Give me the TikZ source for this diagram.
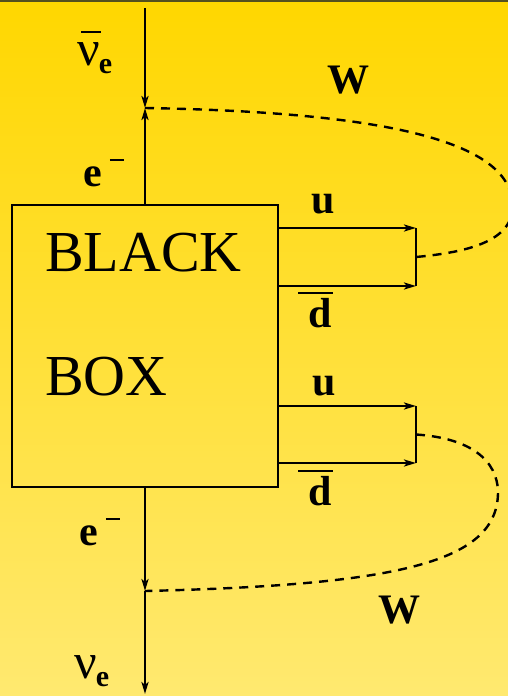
\documentclass[tikz,border=0pt]{standalone}
\usepackage{fontspec}
\setmainfont{Liberation Serif}
\usetikzlibrary{arrows.meta}
\definecolor{bgtop}{RGB}{255,215,0}
\definecolor{bgbot}{RGB}{255,233,112}
\definecolor{rim}{RGB}{85,80,30}
% particle label helpers
\newcommand\barD{\makebox[0pt][l]{\hspace{-10pt}\raisebox{33pt}{\rule{35pt}{2.2pt}}}d}
\newcommand\elec{e\hspace{8pt}\raisebox{25pt}{\rule{14pt}{2pt}}}
\newcommand\nuthing{{\fontsize{50}{50}\selectfont ν}}
\newcommand\subE{\hspace{-1pt}\raisebox{-8pt}{\fontsize{30}{30}\selectfont\bfseries e}}
\begin{document}
\begin{tikzpicture}[x=1pt,y=-1pt,
  plain/.style={line width=2.4pt},
  fermion/.style={line width=2.4pt,-{Stealth[length=12pt,width=7pt,inset=3pt]}},
  wline/.style={line width=2.4pt,dash pattern=on 9pt off 7pt},
  lab/.style={inner sep=0pt,anchor=base west,font=\fontsize{42}{42}\selectfont\bfseries},
  big/.style={inner sep=0pt,anchor=base west,font=\fontsize{58}{58}\selectfont}]
\useasboundingbox (0,0) rectangle (508,696);
\shade[top color=bgtop,bottom color=bgbot] (0,0) rectangle (508,696);
\draw[rim,line width=1.5pt] (0,0.75) -- (508,0.75);
\clip (0,0) rectangle (508,696);

% vertices and free line ends
\coordinate (nutop) at (145,8);
\coordinate (v1) at (145,108);
\coordinate (v2) at (145,591);
\coordinate (nubot) at (145,694);

% the black box
\node[draw,plain,minimum width=266pt,minimum height=282pt,inner sep=0pt] (box) at (145,346) {};
\node[big] (black) at (45,271) {BLACK};
\node[big] (boxtxt) at (45,395) {BOX};

% lepton lines
\draw[fermion] (nutop) -- (v1);
\draw[fermion] (box.north) -- (v1);
\draw[fermion] (box.south) -- (v2);
\draw[fermion] (v2) -- (nubot);

% upper quark pair
\coordinate (qu1) at (416,228);
\coordinate (qd1) at (416,286);
\coordinate (m1) at (416,257);
\draw[fermion] (box.east |- qu1) -- (qu1);
\draw[fermion] (box.east |- qd1) -- (qd1);
\draw[plain] (qu1) -- (qd1);

% lower quark pair
\coordinate (qu2) at (416,406);
\coordinate (qd2) at (416,463);
\coordinate (m2) at (416,434.5);
\draw[fermion] (box.east |- qu2) -- (qu2);
\draw[fermion] (box.east |- qd2) -- (qd2);
\draw[plain] (qu2) -- (qd2);

% W propagators
\draw[wline] (v1) .. controls (380,112) and (505,140) .. (512,200)
  .. controls (518,240) and (470,252) .. (m1);
\draw[wline] (m2) .. controls (470,438) and (498,460) .. (498,493)
  .. controls (497,562) and (400,585) .. (v2);

% labels
\node[inner sep=0pt,anchor=base west] (nuebar) at (77,65)
  {\makebox[0pt][l]{\hspace{4pt}\raisebox{32pt}{\rule{20pt}{2.2pt}}}\nuthing\subE};
\node[inner sep=0pt,anchor=base west] (nue) at (74,678) {\nuthing\subE};
\node[lab] (etop) at (83,186) {\elec};
\node[lab] (ebot) at (79,545) {\elec};
\node[lab] (wtop) at (327,93) {W};
\node[lab] (wbot) at (378,623) {W};
\node[lab] (u1) at (311,213) {u};
\node[lab] (d1) at (308,327) {\barD};
\node[lab] (u2) at (312,395) {u};
\node[lab] (d2) at (308,505) {\barD};
\end{tikzpicture}
\end{document}
